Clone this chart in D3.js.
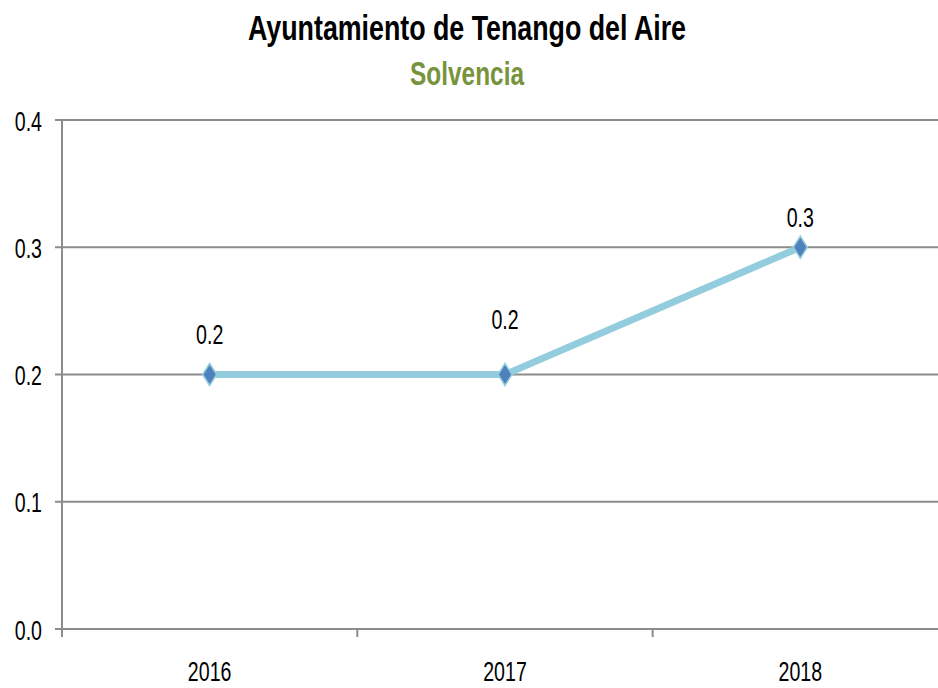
<!DOCTYPE html>
<html>
<head>
<meta charset="utf-8">
<script src="https://cdn.jsdelivr.net/npm/d3@7"></script>
<style>
  body { margin: 0; background: #fff; }
  svg { display: block; }
  text { font-family: "Liberation Sans", Arial, sans-serif; }
</style>
</head>
<body>
<svg width="938" height="688"></svg>
<script>
// chart data
var years = ["2016", "2017", "2018"];
var solvencia = [0.2, 0.2, 0.3];
var yTicks = [0, 0.1, 0.2, 0.3, 0.4];

var svg = d3.select("svg");
var margin = {left: 62, right: -10, top: 120, bottom: 59};
var width = 938, height = 688;
var squeeze = 0.7;   // fake a narrow face, none installed

var x = d3.scaleBand().domain(years).range([margin.left, width - margin.right]);
var y = d3.scaleLinear().domain([0, 0.4]).range([height - margin.bottom, margin.top]);

// title
svg.append("text")
   .attr("x", 467).attr("y", 40)
   .attr("text-anchor", "middle")
   .attr("textLength", 438).attr("lengthAdjust", "spacingAndGlyphs")
   .style("font-size", "35px").style("font-weight", "bold").style("fill", "#000")
   .text("Ayuntamiento de Tenango del Aire");

svg.append("text")
   .attr("x", 467).attr("y", 85)
   .attr("text-anchor", "middle")
   .attr("textLength", 114).attr("lengthAdjust", "spacingAndGlyphs")
   .style("font-size", "34px").style("font-weight", "bold").style("fill", "#77933C")
   .text("Solvencia");

// gridlines
svg.append("g")
   .selectAll("line")
   .data(yTicks)
   .enter()
   .append("line")
   .attr("x1", margin.left - 7)
   .attr("x2", width)
   .attr("y1", function(d) { return y(d); })
   .attr("y2", function(d) { return y(d); })
   .attr("stroke", "#8c8c8c")
   .attr("stroke-width", 2);

// y axis
var yAxis = svg.append("g")
   .attr("transform", "translate(" + margin.left + ",0)")
   .call(d3.axisLeft(y).tickValues(yTicks).tickFormat(d3.format(".1f")));
yAxis.select(".domain").remove();
yAxis.selectAll(".tick line").remove();
yAxis.append("line")
     .attr("x1", 0).attr("x2", 0)
     .attr("y1", y(0.4)).attr("y2", y(0) + 8)
     .attr("stroke", "#8c8c8c").attr("stroke-width", 2);
yAxis.selectAll(".tick text")
     .attr("x", -20 / squeeze)
     .attr("dy", "0.36em")
     .attr("transform", "scale(" + squeeze + ",1)")
     .style("font-family", "Liberation Sans, sans-serif")
     .style("font-size", "28px").style("fill", "#000");

// x axis
var xAxis = svg.append("g")
   .attr("transform", "translate(0," + y(0) + ")")
   .call(d3.axisBottom(x).tickSize(0));
xAxis.select(".domain").remove();
xAxis.selectAll(".tick text")
     .attr("y", 52).attr("dy", 0)
     .attr("transform", "scale(" + squeeze + ",1)")
     .style("font-family", "Liberation Sans, sans-serif")
     .style("font-size", "28px").style("fill", "#000");
xAxis.selectAll(".sep")
     .data(years.slice(1))
     .enter()
     .append("line")
     .attr("x1", function(d) { return x(d); })
     .attr("x2", function(d) { return x(d); })
     .attr("y1", 0).attr("y2", 8)
     .attr("stroke", "#8c8c8c").attr("stroke-width", 2);

// line
var pts = years.map(function(d, i) { return {year: d, value: solvencia[i]}; });
var cx = function(d) { return x(d.year) + x.bandwidth() / 2; };
var line = d3.line()
   .x(cx)
   .y(function(d) { return y(d.value); });

svg.append("path")
   .datum(pts)
   .attr("d", line)
   .attr("fill", "none")
   .attr("stroke", "#93CDDD")
   .attr("stroke-width", 7)
   .attr("stroke-linejoin", "round");

// diamond markers
svg.selectAll(".marker")
   .data(pts)
   .enter()
   .append("path")
   .attr("class", "marker")
   .attr("transform", function(d) { return "translate(" + cx(d) + "," + y(d.value) + ")"; })
   .attr("d", "M0,-11 L7,0 L0,11 L-7,0 Z")
   .attr("fill", "#4F81BD")
   .attr("stroke", "#93CDDD")
   .attr("stroke-width", 1.5);

// data labels (excel nudged them a bit differently)
var labelLift = [41, 56, 30];
svg.selectAll(".dlabel")
   .data(pts)
   .enter()
   .append("text")
   .attr("transform", function(d, i) {
     return "translate(" + cx(d) + "," + (y(d.value) - labelLift[i]) + ") scale(" + squeeze + ",1)";
   })
   .attr("dy", "0.36em")
   .attr("text-anchor", "middle")
   .style("font-size", "28px").style("fill", "#000")
   .text(function(d) { return d3.format(".1f")(d.value); });
</script>
</body>
</html>
